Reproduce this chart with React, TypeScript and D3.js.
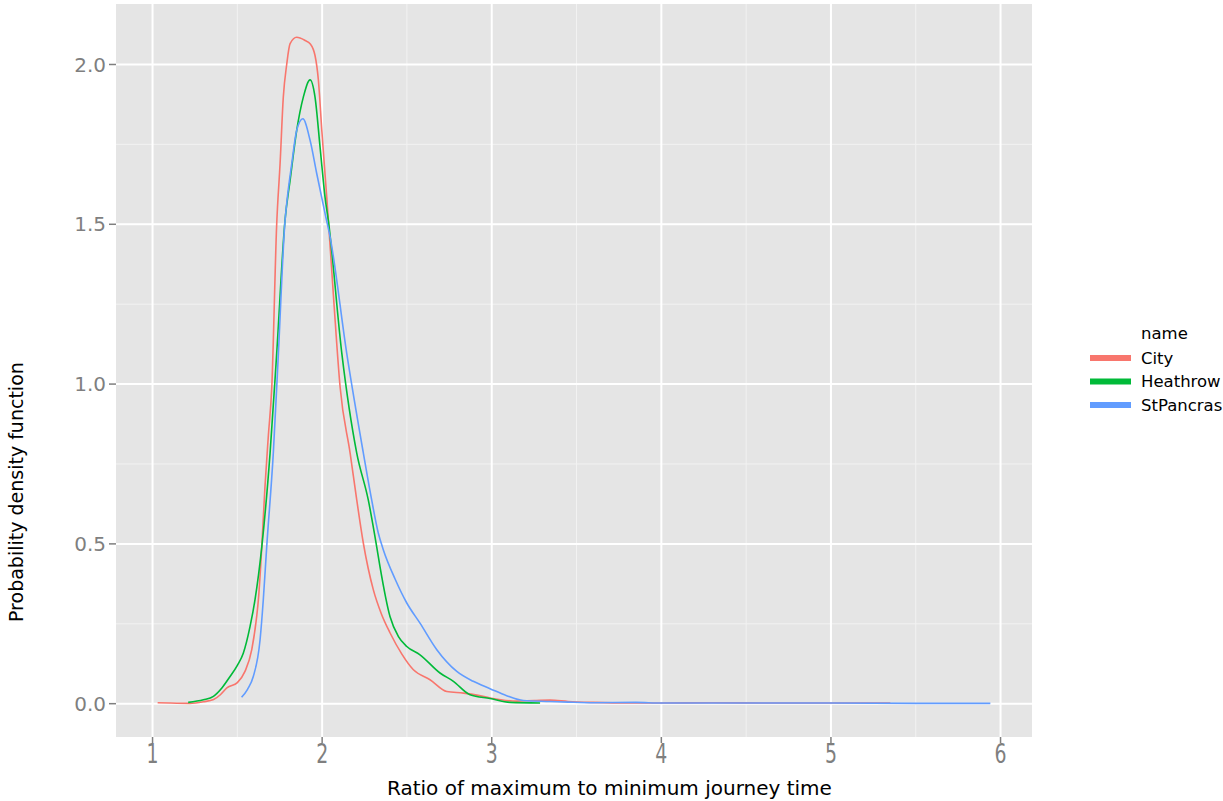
import React from 'react'
import * as d3 from 'd3'

// density estimates, per group
const cityX = [1.03, 1.1, 1.22, 1.3, 1.36, 1.4, 1.44, 1.5, 1.545, 1.585, 1.614, 1.624, 1.644, 1.663, 1.683, 1.703, 1.732, 1.752, 1.771, 1.791, 1.811, 1.85, 1.9, 1.929, 1.958, 1.978, 1.998, 2.027, 2.037, 2.07, 2.106, 2.165, 2.204, 2.243, 2.302, 2.35, 2.4, 2.47, 2.538, 2.636, 2.735, 2.833, 2.92, 2.99, 3.147, 3.25, 3.344, 3.45, 3.6, 3.8, 4.0, 4.3, 4.6, 5.0, 5.35]
const cityY = [0.003, 0.002, 0.001, 0.006, 0.013, 0.028, 0.05, 0.066, 0.101, 0.169, 0.273, 0.325, 0.49, 0.68, 0.84, 0.99, 1.5, 1.69, 1.898, 2.0, 2.065, 2.085, 2.075, 2.065, 2.028, 1.95, 1.794, 1.585, 1.51, 1.25, 0.99, 0.784, 0.6375, 0.502, 0.356, 0.28, 0.222, 0.155, 0.106, 0.075, 0.038, 0.033, 0.026, 0.018, 0.008, 0.01, 0.011, 0.007, 0.004, 0.002, 0.002, 0.003, 0.002, 0.002, 0.002]

const heathrowX = [1.21, 1.3, 1.359, 1.41, 1.457, 1.5, 1.535, 1.575, 1.604, 1.644, 1.693, 1.732, 1.781, 1.811, 1.85, 1.889, 1.929, 1.958, 1.988, 2.017, 2.037, 2.116, 2.204, 2.272, 2.322, 2.341, 2.4, 2.45, 2.499, 2.577, 2.695, 2.774, 2.872, 2.99, 3.108, 3.285]
const heathrowY = [0.004, 0.012, 0.023, 0.05, 0.085, 0.12, 0.158, 0.242, 0.325, 0.49, 0.784, 1.096, 1.5125, 1.6375, 1.794, 1.898, 1.952, 1.898, 1.74, 1.585, 1.51, 1.096, 0.784, 0.6375, 0.49, 0.429, 0.273, 0.21, 0.179, 0.153, 0.096, 0.07, 0.028, 0.016, 0.004, 0.002]

const stPancrasX = [1.525, 1.56, 1.594, 1.634, 1.653, 1.673, 1.712, 1.742, 1.781, 1.791, 1.821, 1.85, 1.886, 1.929, 1.968, 2.017, 2.047, 2.145, 2.243, 2.292, 2.331, 2.361, 2.43, 2.499, 2.577, 2.676, 2.794, 2.891, 2.99, 3.088, 3.186, 3.344, 3.45, 3.6, 3.85, 4.0, 4.5, 5.0, 5.5, 5.94]
const stPancrasY = [0.02, 0.045, 0.085, 0.2, 0.325, 0.49, 0.784, 1.096, 1.51, 1.565, 1.69, 1.794, 1.83, 1.7625, 1.659, 1.534, 1.46, 1.096, 0.784, 0.6375, 0.534, 0.481, 0.39, 0.315, 0.252, 0.169, 0.101, 0.07, 0.047, 0.025, 0.01, 0.007, 0.005, 0.003, 0.004, 0.002, 0.002, 0.002, 0.001, 0.001]

const groupNames = ['City', 'Heathrow', 'StPancras']
const groupColors = ['#F8766D', '#00BA38', '#619CFF']
const xTicks = [1, 2, 3, 4, 5, 6]
const yTicks = [0, 0.5, 1, 1.5, 2]

const series = [
  { name: groupNames[0], xs: cityX, ys: cityY },
  { name: groupNames[1], xs: heathrowX, ys: heathrowY },
  { name: groupNames[2], xs: stPancrasX, ys: stPancrasY },
]

const W = 1223,
  H = 801
const panel = { left: 116, right: 1032, top: 4, bottom: 737 }

// ggplot style 5% expansion of the data range
const expand = (lo: number, hi: number) => {
  const d = (hi - lo) * 0.05
  return [lo - d, hi + d]
}

export default function App() {
  const allX = series.flatMap((s) => s.xs)
  const xLim = expand(d3.min(allX)!, d3.max(allX)!)
  const yLim = expand(0, d3.max(series.flatMap((s) => s.ys))!)

  const x = d3.scaleLinear().domain(xLim).range([panel.left, panel.right])
  const y = d3.scaleLinear().domain(yLim).range([panel.bottom, panel.top])

  const line = d3
    .line<[number, number]>()
    .x((d) => x(d[0]))
    .y((d) => y(d[1]))
    .curve(d3.curveMonotoneX)

  const xMinor = d3.range(0.5, 6.6, 1).filter((v) => v > xLim[0] && v < xLim[1])
  const yMinor = [0.25, 0.75, 1.25, 1.75]

  const tickColor = '#7f7f7f'
  const font = '"DejaVu Sans", sans-serif'
  const condensed = '"DejaVu Sans Condensed", "DejaVu Sans", sans-serif'

  return (
    <svg width={W} height={H} style={{ position: 'absolute', left: 0, top: 0, background: '#fff' }}>
      <rect
        x={panel.left}
        y={panel.top}
        width={panel.right - panel.left}
        height={panel.bottom - panel.top}
        fill='#E5E5E5'
      />
      {/* minor grid */}
      {xMinor.map((v) => (
        <line key={'xm' + v} x1={x(v)} x2={x(v)} y1={panel.top} y2={panel.bottom} stroke='#F2F2F2' strokeWidth={1} />
      ))}
      {yMinor.map((v) => (
        <line key={'ym' + v} x1={panel.left} x2={panel.right} y1={y(v)} y2={y(v)} stroke='#F2F2F2' strokeWidth={1} />
      ))}
      {/* major grid */}
      {xTicks.map((v) => (
        <line key={'xg' + v} x1={x(v)} x2={x(v)} y1={panel.top} y2={panel.bottom} stroke='#fff' strokeWidth={2} />
      ))}
      {yTicks.map((v) => (
        <line key={'yg' + v} x1={panel.left} x2={panel.right} y1={y(v)} y2={y(v)} stroke='#fff' strokeWidth={2} />
      ))}

      {series.map((s, i) => (
        <path
          key={s.name}
          d={line(s.xs.map((v, j) => [v, s.ys[j]] as [number, number]))!}
          fill='none'
          stroke={groupColors[i]}
          strokeWidth={1.6}
        />
      ))}

      {/* axes */}
      {xTicks.map((v) => (
        <g key={'xt' + v}>
          <line x1={x(v)} x2={x(v)} y1={panel.bottom} y2={panel.bottom + 6} stroke={tickColor} strokeWidth={1.5} />
          <text
            transform={`translate(${x(v)}, 763) scale(1, 1.3)`}
            textAnchor='middle'
            fontFamily={condensed}
            fontSize={21}
            fill={tickColor}
          >
            {v}
          </text>
        </g>
      ))}
      {yTicks.map((v) => (
        <g key={'yt' + v}>
          <line x1={panel.left - 7} x2={panel.left} y1={y(v)} y2={y(v)} stroke={tickColor} strokeWidth={1.5} />
          <text
            x={106}
            y={y(v)}
            dy='0.36em'
            textAnchor='end'
            fontFamily={font}
            fontSize={20}
            fill={tickColor}
          >
            {d3.format('.1f')(v)}
          </text>
        </g>
      ))}

      <text x={387} y={795} textAnchor='start' fontFamily={font} fontSize={20} fill='#000'>
        Ratio of maximum to minimum journey time
      </text>
      <text
        transform={`translate(23, 622) rotate(-90)`}
        textAnchor='start'
        fontFamily={font}
        fontSize={19}
        fill='#000'
      >
        Probability density function
      </text>

      {/* legend */}
      <text x={1141} y={339} fontFamily={font} fontSize={16.5} fill='#000'>
        name
      </text>
      {groupNames.map((n, i) => (
        <g key={'lg' + n} transform={`translate(0, ${358 + i * 23.5})`}>
          <line x1={1090} x2={1131} y1={0} y2={0} stroke={groupColors[i]} strokeWidth={6} />
          <text x={1141} y={0} dy='0.36em' fontFamily={font} fontSize={16.5} fill='#000'>
            {n}
          </text>
        </g>
      ))}
    </svg>
  )
}
